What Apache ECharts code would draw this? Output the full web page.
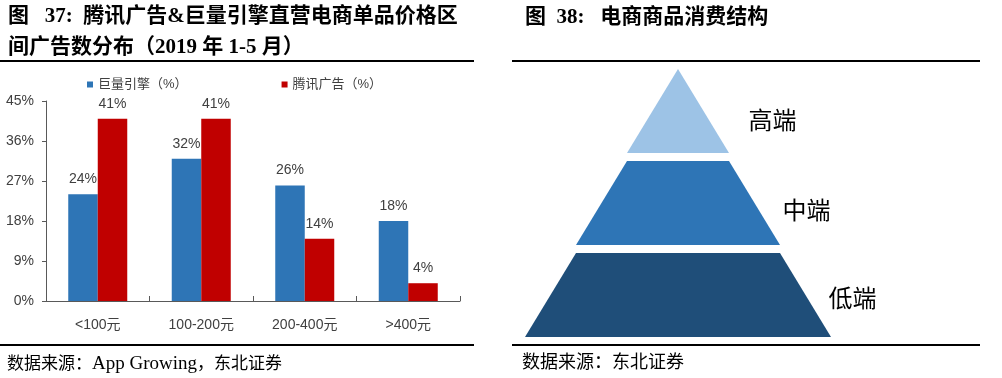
<!DOCTYPE html>
<html><head><meta charset="utf-8">
<script src="https://cdn.jsdelivr.net/npm/echarts@6/dist/echarts.min.js"></script>
<style>html,body{margin:0;padding:0;background:#fff;}#c{width:1002px;height:378px;}</style>
</head><body><div id="c"></div>
<script>
// ---- data ----
const categories = ['<100元', '100-200元', '200-400元', '>400元'];
const seriesNames = ['巨量引擎（%）', '腾讯广告（%）'];
const juliangValues = [24, 32, 26, 18];
const tencentValues = [41, 41, 14, 4];
const yTickLabels = [0, 9, 18, 27, 36, 45];
const pyramidLevels = ['高端', '中端', '低端'];
const pyramidRanks = [1, 2, 3];

// ---- styles ----
const pyramidColors = ['#9DC3E6', '#2E75B6', '#1F4E79'];
const pyramidLabelLine = [40, 23, 18];
const pyramidLabelDy = [9, 7, 3];
const sans = "'Liberation Sans', Arial, 'Noto Sans CJK SC', sans-serif";
const serif = "'Liberation Serif', 'Times New Roman', 'Noto Sans CJK SC', serif";

const chart = echarts.init(document.getElementById('c'), null, {renderer: 'canvas'});
const yStep = yTickLabels[1] - yTickLabels[0];
const titleStyle = {fontSize: 21, fontWeight: 'bold', lineHeight: 31, fontFamily: serif, color: '#000'};

chart.setOption({
  animation: false,
  backgroundColor: '#fff',
  title: [
    {text: '图   37:  腾讯广告&巨量引擎直营电商单品价格区\n间广告数分布（2019 年 1-5 月）', left: 8, top: 1, padding: 0,
     textStyle: titleStyle},
    {text: '图  38:   电商商品消费结构', left: 525, top: 2, padding: 0,
     textStyle: titleStyle},
    {text: '数据来源：{l|App Growing}，东北证券', left: 7, top: 355, padding: 0,
     textStyle: {fontSize: 17, fontWeight: 'normal', lineHeight: 19, fontFamily: serif, color: '#000',
       rich: {l: {fontSize: 19, lineHeight: 19, fontFamily: serif, color: '#000'}}}},
    {text: '数据来源：东北证券', left: 522, top: 354, padding: 0,
     textStyle: {fontSize: 18, fontWeight: 'normal', lineHeight: 19, fontFamily: serif, color: '#000'}}
  ],
  graphic: [
    {type: 'line', shape: {x1: 0, y1: 61, x2: 474, y2: 61}, style: {stroke: '#000', lineWidth: 2}},
    {type: 'line', shape: {x1: 512, y1: 61, x2: 980, y2: 61}, style: {stroke: '#000', lineWidth: 2}},
    {type: 'line', shape: {x1: 0, y1: 345, x2: 474, y2: 345}, style: {stroke: '#000', lineWidth: 2}},
    {type: 'line', shape: {x1: 512, y1: 345, x2: 980, y2: 345}, style: {stroke: '#000', lineWidth: 2}}
  ],
  legend: {
    data: seriesNames, left: 87, top: 78, padding: 0,
    itemWidth: 6, itemHeight: 6, itemGap: 94, icon: 'rect',
    textStyle: {fontSize: 13, color: '#404040', fontFamily: sans}
  },
  grid: {left: 46, right: 542, top: 101, bottom: 77, containLabel: false},
  xAxis: {
    type: 'category', data: categories,
    axisLine: {lineStyle: {color: '#595959', width: 1}},
    axisTick: {show: true, inside: true, length: 5, lineStyle: {color: '#595959'}},
    axisLabel: {fontSize: 14, color: '#404040', margin: 17, fontFamily: sans}
  },
  yAxis: {
    type: 'value', min: yTickLabels[0], max: yTickLabels[yTickLabels.length - 1], interval: yStep,
    splitLine: {show: false},
    axisLine: {show: true, lineStyle: {color: '#595959', width: 1}},
    axisTick: {show: true, length: 4, lineStyle: {color: '#595959'}},
    axisLabel: {fontSize: 14, color: '#404040', margin: 12, fontFamily: sans, formatter: '{value}%'}
  },
  series: [
    {name: seriesNames[0], type: 'bar', data: juliangValues, barWidth: 29.5, barGap: '0%',
     itemStyle: {color: '#2E75B6'},
     label: {show: true, position: 'top', distance: 8, fontSize: 14, color: '#404040', fontFamily: sans, formatter: '{c}%'}},
    {name: seriesNames[1], type: 'bar', data: tencentValues, barWidth: 29.5, barGap: '0%',
     itemStyle: {color: '#C00000'},
     label: {show: true, position: 'top', distance: 8, fontSize: 14, color: '#404040', fontFamily: sans, formatter: '{c}%'}},
    {type: 'funnel', sort: 'ascending', min: 0, max: pyramidRanks[pyramidRanks.length - 1],
     minSize: '0%', maxSize: '100%', left: 525, top: 69, width: 306, height: 268, gap: 8,
     itemStyle: {borderWidth: 0},
     label: {show: true, position: 'right', fontSize: 24, color: '#000', fontFamily: "'Noto Sans CJK SC', sans-serif"},
     labelLine: {show: false},
     labelLayout: (p) => ({dy: pyramidLabelDy[p.dataIndex]}),
     emphasis: {disabled: true},
     data: pyramidLevels.map((n, i) => ({
       name: n, value: pyramidRanks[i],
       itemStyle: {color: pyramidColors[i]},
       labelLine: {show: false, length: pyramidLabelLine[i]}
     }))}
  ]
});
</script></body></html>
